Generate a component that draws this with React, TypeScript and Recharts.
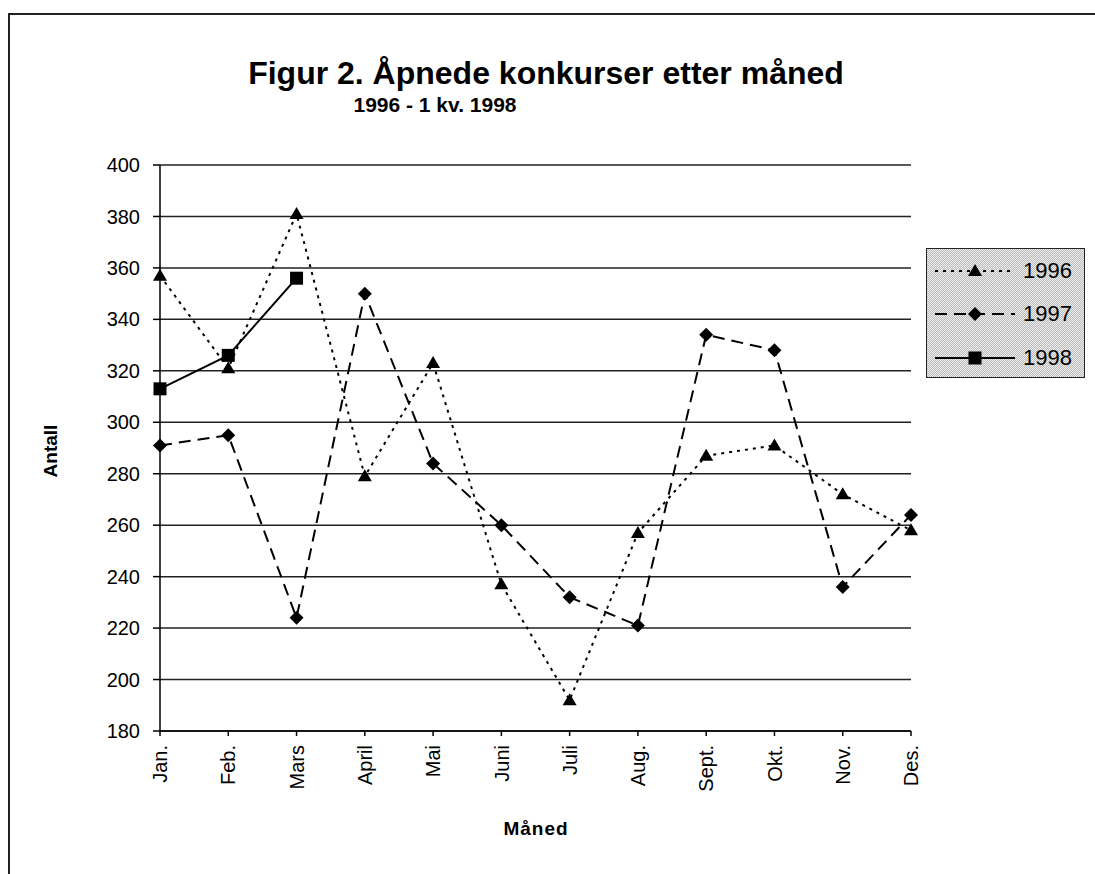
import React from "react";
import {
  LineChart,
  Line,
  XAxis,
  YAxis,
  CartesianGrid,
  Legend,
} from "recharts";

const months = ["Jan.", "Feb.", "Mars", "April", "Mai", "Juni", "Juli", "Aug.", "Sept.", "Okt.", "Nov.", "Des."];
const values1996 = [357, 321, 381, 279, 323, 237, 192, 257, 287, 291, 272, 258];
const values1997 = [291, 295, 224, 350, 284, 260, 232, 221, 334, 328, 236, 264];
const values1998: (number | null)[] = [313, 326, 356, null, null, null, null, null, null, null, null, null];
const yTicks = [180, 200, 220, 240, 260, 280, 300, 320, 340, 360, 380, 400];

const data = months.map((m, i) => ({
  month: m,
  y1996: values1996[i],
  y1997: values1997[i],
  y1998: values1998[i],
}));

const FONT = "Arial, 'Liberation Sans', Helvetica, sans-serif";

const Triangle = ({ cx, cy }: any) => {
  if (cx == null || cy == null) return null;
  return (
    <polygon
      points={`${cx},${cy - 7} ${cx + 7},${cy + 5} ${cx - 7},${cy + 5}`}
      fill="#000"
    />
  );
};

const Diamond = ({ cx, cy }: any) => {
  if (cx == null || cy == null) return null;
  return (
    <polygon
      points={`${cx},${cy - 7} ${cx + 7},${cy} ${cx},${cy + 7} ${cx - 7},${cy}`}
      fill="#000"
    />
  );
};

const Square = ({ cx, cy }: any) => {
  if (cx == null || cy == null) return null;
  return <rect x={cx - 6.5} y={cy - 6.5} width={13} height={13} fill="#000" />;
};

const MonthTick = ({ x, y, payload }: any) => (
  <g transform={`translate(${x},${y})`}>
    <text
      x={-7}
      y={0}
      dy="0.36em"
      textAnchor="end"
      transform="rotate(-90)"
      fontSize={20}
      fontFamily={FONT}
      fill="#000"
    >
      {payload.value}
    </text>
  </g>
);

const legendRows = [
  { name: "1996", dash: "3 5", marker: "triangle" },
  { name: "1997", dash: "12 7", marker: "diamond" },
  { name: "1998", dash: undefined, marker: "square" },
];

const CustomLegend = () => (
  <div
    style={{
      width: 159,
      height: 130,
      boxSizing: "border-box",
      border: "1.5px solid #222",
      background:
        "repeating-conic-gradient(#b8b8b8 0% 25%, #f0f0f0 0% 50%) 0 0 / 2px 2px",
      paddingTop: 0,
    }}
  >
    {legendRows.map((r) => (
      <div
        key={r.name}
        style={{ display: "flex", alignItems: "center", height: 43.5 }}
      >
        <svg width={89} height={20} style={{ marginLeft: 8 }}>
          <line
            x1={0}
            y1={10}
            x2={80}
            y2={10}
            stroke="#000"
            strokeWidth={2}
            strokeDasharray={r.dash}
          />
          {r.marker === "triangle" && <Triangle cx={40} cy={10} />}
          {r.marker === "diamond" && <Diamond cx={40} cy={10} />}
          {r.marker === "square" && <Square cx={40} cy={10} />}
        </svg>
        <span style={{ fontFamily: FONT, fontSize: 22, color: "#000", marginLeft: -1 }}>
          {r.name}
        </span>
      </div>
    ))}
  </div>
);

export default function App() {
  return (
    <div
      style={{
        position: "relative",
        width: 1095,
        height: 874,
        overflow: "hidden",
        background: "#fff",
        fontFamily: FONT,
      }}
    >
      <style>{`body{margin:0}`}</style>
      <div
        style={{
          position: "absolute",
          left: 8,
          top: 13,
          width: 1200,
          height: 1000,
          borderLeft: "2px solid #222",
          borderTop: "2px solid #222",
        }}
      />
      <div
        style={{
          position: "absolute",
          left: 146,
          top: 57,
          width: 800,
          textAlign: "center",
          fontSize: 32,
          fontWeight: "bold",
          lineHeight: 1,
        }}
      >
        Figur 2. Åpnede konkurser etter måned
      </div>
      <div
        style={{
          position: "absolute",
          left: 285,
          top: 94,
          width: 300,
          textAlign: "center",
          fontSize: 21,
          fontWeight: "bold",
          lineHeight: 1,
        }}
      >
        1996 - 1 kv. 1998
      </div>
      <div
        style={{
          position: "absolute",
          left: 50,
          top: 451,
          transform: "translate(-50%, -50%) rotate(-90deg)",
          fontSize: 19,
          fontWeight: "bold",
          lineHeight: 1,
          whiteSpace: "nowrap",
        }}
      >
        Antall
      </div>
      <div
        style={{
          position: "absolute",
          left: 386,
          top: 819,
          width: 300,
          textAlign: "center",
          fontSize: 19,
          fontWeight: "bold",
          letterSpacing: 1,
          lineHeight: 1,
        }}
      >
        Måned
      </div>
      <div style={{ position: "absolute", left: 0, top: 0 }}>
        <LineChart
          width={1095}
          height={874}
          data={data}
          margin={{ top: 165, right: 184, bottom: 83, left: 100 }}
        >
          <CartesianGrid
            vertical={false}
            stroke="#222"
            strokeWidth={1.5}
            horizontalValues={yTicks}
          />
          <XAxis
            dataKey="month"
            height={60}
            interval={0}
            tick={<MonthTick />}
            tickSize={5}
            tickMargin={2}
            axisLine={{ stroke: "#000", strokeWidth: 1.5 }}
            tickLine={{ stroke: "#000", strokeWidth: 1.5 }}
          />
          <YAxis
            width={60}
            domain={[180, 400]}
            ticks={yTicks}
            interval={0}
            tickSize={7}
            tickMargin={13}
            tick={{ fill: "#000", fontSize: 20, fontFamily: FONT }}
            axisLine={{ stroke: "#000", strokeWidth: 1.5 }}
            tickLine={{ stroke: "#000", strokeWidth: 1.5 }}
          />
          <Legend
            layout="vertical"
            align="center"
            verticalAlign="middle"
            content={<CustomLegend />}
            wrapperStyle={{ position: "absolute", left: 926, top: 248, width: 159, height: 130 }}
          />
          <Line
            dataKey="y1996"
            name="1996"
            stroke="#000"
            strokeWidth={2}
            strokeDasharray="3 5"
            dot={<Triangle />}
            activeDot={false}
            isAnimationActive={false}
          />
          <Line
            dataKey="y1997"
            name="1997"
            stroke="#000"
            strokeWidth={2}
            strokeDasharray="12 7"
            dot={<Diamond />}
            activeDot={false}
            isAnimationActive={false}
          />
          <Line
            dataKey="y1998"
            name="1998"
            stroke="#000"
            strokeWidth={2}
            dot={<Square />}
            activeDot={false}
            connectNulls={false}
            isAnimationActive={false}
          />
        </LineChart>
      </div>
    </div>
  );
}
